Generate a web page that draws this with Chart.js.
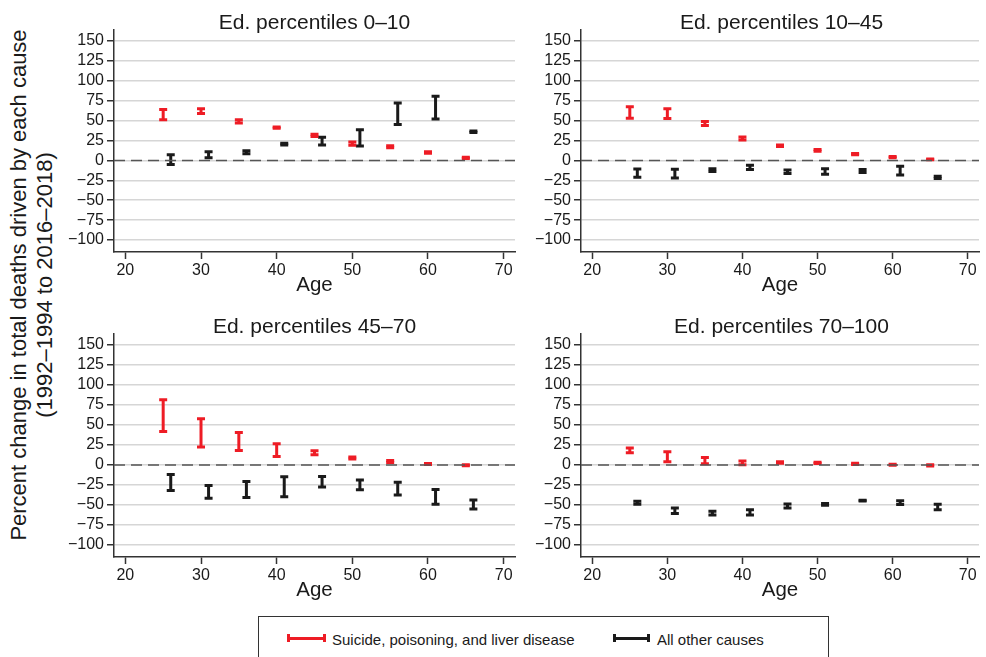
<!DOCTYPE html>
<html><head><meta charset="utf-8">
<script src="https://cdn.jsdelivr.net/npm/chart.js@4/dist/chart.umd.min.js"></script>
<style>
html,body{margin:0;padding:0;background:#fff;width:986px;height:657px;overflow:hidden;font-family:"Liberation Sans",Arial,Helvetica,sans-serif;color:#1a1a1a}
canvas{position:absolute}
.ttl{position:absolute;font-size:21px;white-space:nowrap;transform:translate(-50%,-50%);line-height:1}
.ytl{position:absolute;font-size:22px;white-space:nowrap;line-height:1;transform:translate(-50%,-50%) rotate(-90deg)}
#legend{position:absolute;left:258px;top:616px;width:571px;height:60px;border:1px solid #333;box-sizing:border-box}
.smp{position:absolute;height:8px;box-sizing:border-box;transform:translateY(-50%)}
.smp i{position:absolute;left:0;right:0;top:2.5px;height:3px}
.ltx{position:absolute;font-size:15px;line-height:1;white-space:nowrap;transform:translateY(-50%)}
</style></head>
<body>
<canvas id="c1" width="470" height="281" style="left:60px;top:17px"></canvas>
<canvas id="c2" width="459" height="281" style="left:527px;top:17px"></canvas>
<canvas id="c3" width="470" height="282" style="left:60px;top:321px"></canvas>
<canvas id="c4" width="459" height="282" style="left:527px;top:321px"></canvas>
<div class="ttl" id="t1" style="left:314.5px;top:20.5px"></div>
<div class="ttl" id="t2" style="left:781.5px;top:20.5px"></div>
<div class="ttl" id="t3" style="left:314.5px;top:325px"></div>
<div class="ttl" id="t4" style="left:781.5px;top:325px"></div>
<div class="ytl" id="yt1" style="left:19px;top:285px"></div>
<div class="ytl" id="yt2" style="left:45px;top:285px"></div>
<div id="legend"></div>
<div class="smp" style="left:287px;top:638px;width:39px;border-left:3px solid #ee1c25;border-right:3px solid #ee1c25"><i style="background:#ee1c25"></i></div>
<div class="ltx" id="l1" style="left:332px;top:638.5px"></div>
<div class="smp" style="left:613px;top:638px;width:37px;border-left:3px solid #1a1a1a;border-right:3px solid #1a1a1a"><i style="background:#1a1a1a"></i></div>
<div class="ltx" id="l2" style="left:657px;top:638.5px"></div>
<script>
const PANEL_TITLES = ['Ed. percentiles 0\u201310','Ed. percentiles 10\u201345','Ed. percentiles 45\u201370','Ed. percentiles 70\u2013100'];
const Y_TITLE = ['Percent change in total deaths driven by each cause','(1992\u20131994 to 2016\u20132018)'];
const SERIES_NAMES = ['Suicide, poisoning, and liver disease','All other causes'];
const X_TITLE = 'Age';
const AGES_RED = [25,30,35,40,45,50,55,60,65];
const AGES_BLACK = [26,31,36,41,46,51,56,61,66];
const X_TICKS = [20,30,40,50,60,70];
const Y_TICKS = [-100,-75,-50,-25,0,25,50,75,100,125,150];

const P1_RED_LO = [51,59,47,40.5,30,19,16,9,2.5];
const P1_RED_HI = [64,65,51,42,33,23,18.5,11,4];
const P1_BLK_LO = [-5,3.5,8.5,19.5,19.5,18,45,52,35];
const P1_BLK_HI = [7,11,12,21.5,29,38.5,72,80.5,37];

const P2_RED_LO = [53,52.5,44,25.5,17.5,11.5,7,3.5,0.7];
const P2_RED_HI = [67.5,65,49,29.5,19.5,13.8,8.8,5,1.8];
const P2_BLK_LO = [-21,-22,-14,-11.5,-16.3,-17.5,-15.3,-18.3,-22.8];
const P2_BLK_HI = [-10.7,-11,-10.3,-6,-12,-10.3,-11.5,-7.3,-19.8];

const P3_RED_LO = [42,22.5,18,10.7,12.8,7.5,3.3,0.5,-1];
const P3_RED_HI = [81.5,57.7,40.5,26.6,17.8,10,5.5,1.8,0.2];
const P3_BLK_LO = [-32,-41.7,-40.5,-39.6,-27.4,-30.8,-37.4,-49.2,-55];
const P3_BLK_HI = [-11.8,-25.6,-20.6,-14.8,-14.3,-18.6,-21.5,-30.6,-43.7];

const P4_RED_LO = [15.3,4,1.5,0.2,2.3,2,0.8,-0.2,-1.3];
const P4_RED_HI = [21.2,16.6,9.5,4.9,4.1,3.5,2.2,1,0.3];
const P4_BLK_LO = [-49.2,-60.5,-62.6,-62.6,-53.8,-50.3,-45,-49.5,-56];
const P4_BLK_HI = [-45.3,-53.8,-57.9,-55.8,-48.7,-48,-43.9,-44.8,-49.2];

const X_MIN = 18.5, X_MAX = 71.5, Y_MIN = -115, Y_MAX = 164.3;

const RED = '#ee1c25', BLK = '#1a1a1a', AX = '#333333', TXT = '#1a1a1a', GRID = '#d6d6d6';
const FONT = '"Liberation Sans", Arial, Helvetica, sans-serif';

document.getElementById('t1').textContent = PANEL_TITLES[0];
document.getElementById('t2').textContent = PANEL_TITLES[1];
document.getElementById('t3').textContent = PANEL_TITLES[2];
document.getElementById('t4').textContent = PANEL_TITLES[3];
document.getElementById('yt1').textContent = Y_TITLE[0];
document.getElementById('yt2').textContent = Y_TITLE[1];
document.getElementById('l1').textContent = SERIES_NAMES[0];
document.getElementById('l2').textContent = SERIES_NAMES[1];

function errData(ages, lo, hi){
  const out = [];
  ages.forEach((a,i)=>{ out.push({x:a,y:lo[i]}); out.push({x:a,y:hi[i]}); out.push({x:a,y:null}); });
  return out;
}
function fmt(v){ return v < 0 ? '\u2212' + Math.abs(v) : String(v); }

function makeChart(id, redLo, redHi, blkLo, blkHi, padRight){
  new Chart(document.getElementById(id), {
    type:'line',
    data:{datasets:[
      {label:'zero', data:[{x:X_MIN,y:0},{x:X_MAX,y:0}], borderColor:'#555555', borderWidth:1.5, borderDash:[11,6], pointRadius:0},
      {label:SERIES_NAMES[0], data:errData(AGES_RED, redLo, redHi), borderColor:RED, borderWidth:3, spanGaps:false,
       pointStyle:'line', pointRadius:4, pointBorderWidth:3, pointBorderColor:RED, pointBackgroundColor:RED},
      {label:SERIES_NAMES[1], data:errData(AGES_BLACK, blkLo, blkHi), borderColor:BLK, borderWidth:3, spanGaps:false,
       pointStyle:'line', pointRadius:4, pointBorderWidth:3, pointBorderColor:BLK, pointBackgroundColor:BLK}
    ]},
    options:{
      responsive:false, animation:false, events:[],
      layout:{padding:{top:0,right:padRight,left:0,bottom:0}},
      plugins:{legend:{display:false},tooltip:{enabled:false},title:{display:false}},
      scales:{
        x:{type:'linear', min:X_MIN, max:X_MAX,
          afterBuildTicks:s=>{ s.ticks = X_TICKS.map(v=>({value:v})); },
          grid:{drawOnChartArea:false, drawTicks:true, tickLength:7, tickColor:AX, tickWidth:1.5},
          border:{display:true, color:AX, width:1.5},
          ticks:{font:{size:16,family:FONT}, color:TXT, padding:2, maxRotation:0, autoSkip:false},
          title:{display:true, text:X_TITLE, font:{size:20.5,family:FONT}, color:TXT, padding:{top:0,bottom:0}},
          afterFit:s=>{ s.height = 46; }
        },
        y:{type:'linear', min:Y_MIN, max:Y_MAX,
          afterBuildTicks:s=>{ s.ticks = Y_TICKS.map(v=>({value:v})); },
          grid:{color:GRID, lineWidth:1.5, tickColor:AX, tickLength:7, tickWidth:1.5},
          border:{display:true, color:AX, width:1.5},
          ticks:{font:{size:16,family:FONT}, color:TXT, padding:3, autoSkip:false, callback:v=>fmt(v)},
          afterFit:s=>{ s.width = 54; }
        }
      }
    }
  });
}
makeChart('c1', P1_RED_LO, P1_RED_HI, P1_BLK_LO, P1_BLK_HI, 15);
makeChart('c2', P2_RED_LO, P2_RED_HI, P2_BLK_LO, P2_BLK_HI, 4);
makeChart('c3', P3_RED_LO, P3_RED_HI, P3_BLK_LO, P3_BLK_HI, 15);
makeChart('c4', P4_RED_LO, P4_RED_HI, P4_BLK_LO, P4_BLK_HI, 4);
</script>
</body></html>
